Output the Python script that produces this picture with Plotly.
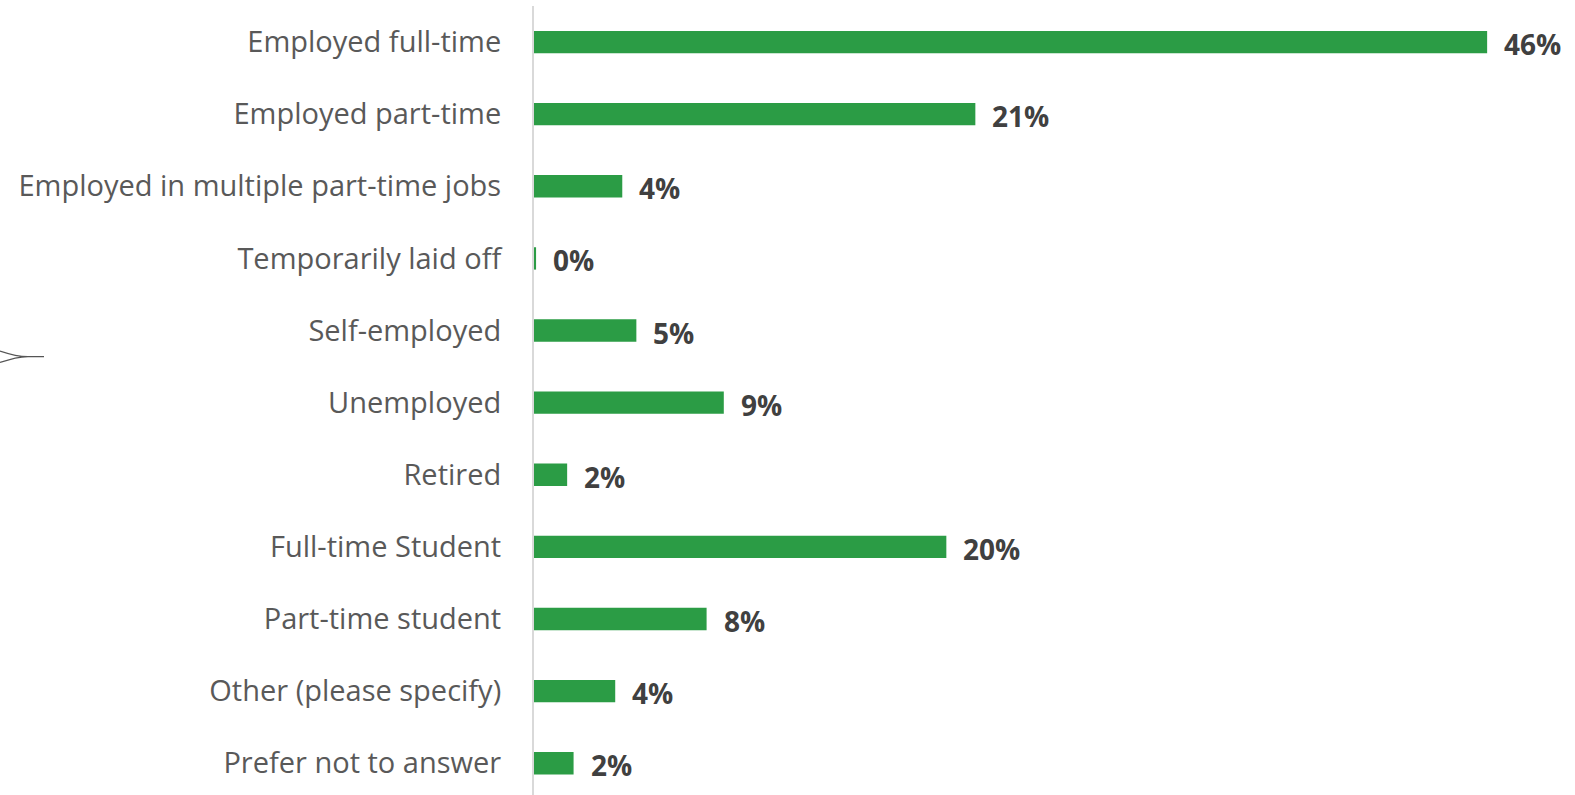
import plotly.graph_objects as go

categories = [
    "Employed full-time",
    "Employed part-time",
    "Employed in multiple part-time jobs",
    "Temporarily laid off",
    "Self-employed",
    "Unemployed",
    "Retired",
    "Full-time Student",
    "Part-time student",
    "Other (please specify)",
    "Prefer not to answer",
]
values = [46.0, 21.3, 4.26, 0.1, 4.94, 9.16, 1.6, 19.9, 8.33, 3.92, 1.91]

W, H = 1575, 795
L, R, T, B = 534, 0, 6, 0
pw = W - L - R
ph = H - T - B

fig = go.Figure()
fig.add_trace(go.Bar(
    y=categories, x=values, orientation="h",
    marker=dict(color="#2b9c45", line=dict(width=0)),
    width=0.31,
    hoverinfo="skip",
))

for c, v in zip(categories, values):
    fig.add_annotation(
        x=v, y=c, xref="x", yref="y",
        text=f"<b>{v:.0f}%</b>", showarrow=False,
        xanchor="left", yanchor="middle", xshift=15, yshift=-2,
        font=dict(family="Open Sans", size=28, color="#404040"),
    )

def px(x):
    return (x - L) / pw

def py(y):
    return 1 - (y - T) / ph

# decorative bracket mark at left edge
path = (f"M {px(0)},{py(351)} C {px(12)},{py(355)} {px(18)},{py(356.5)} {px(28)},{py(356.7)} "
        f"L {px(44)},{py(356.7)} M {px(0)},{py(362.5)} C {px(12)},{py(358.5)} {px(18)},{py(357)} {px(28)},{py(356.7)}")
fig.add_shape(type="path", path=path, xref="paper", yref="paper",
              line=dict(color="#555555", width=1.2))

fig.update_layout(
    width=W, height=H,
    margin=dict(l=L, r=R, t=T, b=B),
    plot_bgcolor="white", paper_bgcolor="white",
    showlegend=False,
    xaxis=dict(range=[0, 50.24], visible=False, fixedrange=True),
    yaxis=dict(
        type="category",
        range=[10.44, -0.5],
        showline=True, linecolor="#d9d9d9", linewidth=2,
        ticks="", showgrid=False, zeroline=False,
        ticklabelstandoff=25,
        fixedrange=True,
        tickfont=dict(family="Open Sans", size=29, color="#595959"),
    ),
)

fig.write_html("out.html", config={"displayModeBar": False},
               post_script="document.body.style.margin='0';")
